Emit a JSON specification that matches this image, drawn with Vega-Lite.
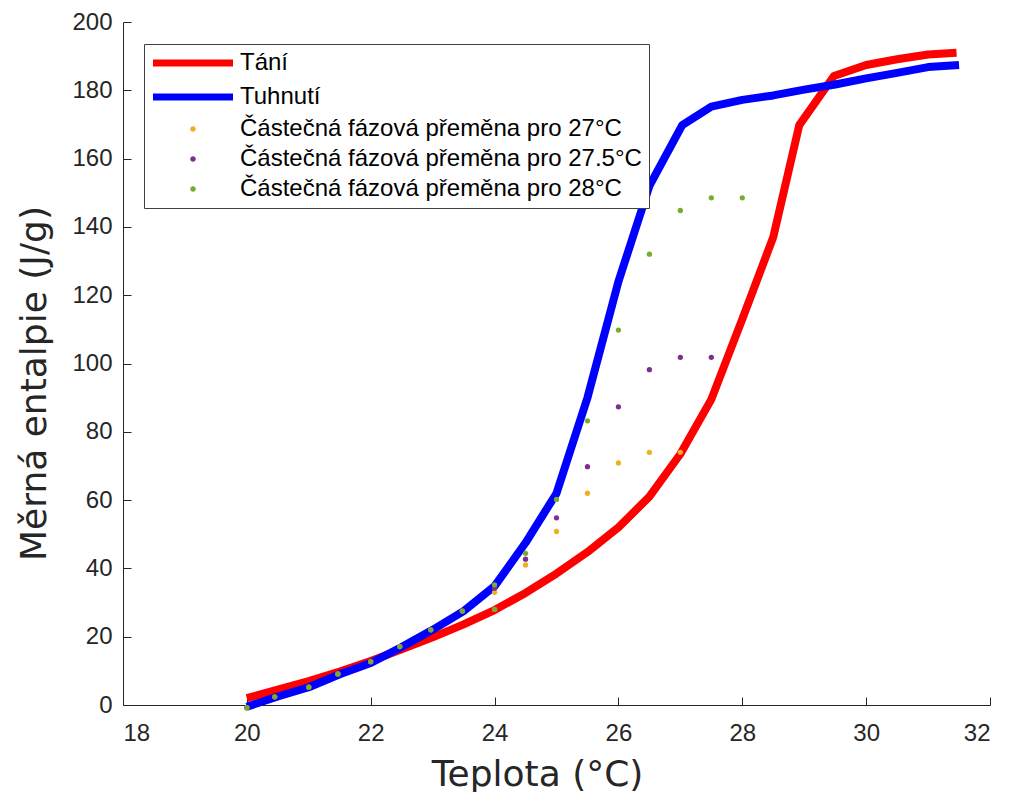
{
  "$schema": "https://vega.github.io/schema/vega-lite/v6.json",
  "width": 867,
  "height": 683,
  "autosize": {"type": "none"},
  "padding": {"left": 123, "top": 22, "right": 19, "bottom": 87},
  "background": "white",
  "config": {
    "view": {"stroke": null},
    "axis": {
      "grid": false,
      "domainColor": "#262626",
      "tickColor": "#262626",
      "tickSize": -8,
      "labelFont": "Liberation Sans",
      "labelFontSize": 24,
      "labelColor": "#262626",
      "titleFont": "DejaVu Sans",
      "titleFontSize": 36,
      "titleFontWeight": "normal",
      "titleColor": "#262626"
    }
  },
  "data": {
    "values": [
      {"s": "Tání", "x": 20, "y": 2},
      {"s": "Tání", "x": 20.5, "y": 4.5},
      {"s": "Tání", "x": 21, "y": 7},
      {"s": "Tání", "x": 21.5, "y": 9.8},
      {"s": "Tání", "x": 22, "y": 12.9},
      {"s": "Tání", "x": 22.5, "y": 16.3},
      {"s": "Tání", "x": 23, "y": 19.8},
      {"s": "Tání", "x": 23.5, "y": 23.6},
      {"s": "Tání", "x": 24, "y": 27.8},
      {"s": "Tání", "x": 24.5, "y": 32.8},
      {"s": "Tání", "x": 25, "y": 38.5},
      {"s": "Tání", "x": 25.5, "y": 44.8},
      {"s": "Tání", "x": 26, "y": 52},
      {"s": "Tání", "x": 26.5, "y": 61},
      {"s": "Tání", "x": 27, "y": 73.5},
      {"s": "Tání", "x": 27.5, "y": 89.5},
      {"s": "Tání", "x": 28, "y": 113},
      {"s": "Tání", "x": 28.5, "y": 137},
      {"s": "Tání", "x": 28.92, "y": 169.8},
      {"s": "Tání", "x": 29.48, "y": 184.2},
      {"s": "Tání", "x": 30, "y": 187.4},
      {"s": "Tání", "x": 30.5, "y": 189.1},
      {"s": "Tání", "x": 31, "y": 190.5},
      {"s": "Tání", "x": 31.46, "y": 191},
      {"s": "Tuhnutí", "x": 20, "y": -0.5},
      {"s": "Tuhnutí", "x": 20.5, "y": 2.5},
      {"s": "Tuhnutí", "x": 21, "y": 5.2},
      {"s": "Tuhnutí", "x": 21.5, "y": 9},
      {"s": "Tuhnutí", "x": 22, "y": 12.3},
      {"s": "Tuhnutí", "x": 22.5, "y": 17},
      {"s": "Tuhnutí", "x": 23, "y": 22},
      {"s": "Tuhnutí", "x": 23.5, "y": 27.5},
      {"s": "Tuhnutí", "x": 24, "y": 34.8},
      {"s": "Tuhnutí", "x": 24.5, "y": 47.5},
      {"s": "Tuhnutí", "x": 25, "y": 62},
      {"s": "Tuhnutí", "x": 25.5, "y": 90},
      {"s": "Tuhnutí", "x": 26, "y": 124},
      {"s": "Tuhnutí", "x": 26.5, "y": 152},
      {"s": "Tuhnutí", "x": 27.03, "y": 169.8},
      {"s": "Tuhnutí", "x": 27.5, "y": 175.2},
      {"s": "Tuhnutí", "x": 28, "y": 177.2},
      {"s": "Tuhnutí", "x": 28.5, "y": 178.5},
      {"s": "Tuhnutí", "x": 29, "y": 180.2},
      {"s": "Tuhnutí", "x": 29.5, "y": 181.7},
      {"s": "Tuhnutí", "x": 30, "y": 183.5},
      {"s": "Tuhnutí", "x": 30.5, "y": 185.1},
      {"s": "Tuhnutí", "x": 31, "y": 186.8},
      {"s": "Tuhnutí", "x": 31.5, "y": 187.4},
      {"s": "Částečná fázová přeměna pro 27°C", "x": 20, "y": -0.8},
      {"s": "Částečná fázová přeměna pro 27°C", "x": 20.45, "y": 2.4},
      {"s": "Částečná fázová přeměna pro 27°C", "x": 21, "y": 5.2},
      {"s": "Částečná fázová přeměna pro 27°C", "x": 21.47, "y": 9.1},
      {"s": "Částečná fázová přeměna pro 27°C", "x": 22, "y": 12.7},
      {"s": "Částečná fázová přeměna pro 27°C", "x": 22.47, "y": 17.1},
      {"s": "Částečná fázová přeměna pro 27°C", "x": 22.97, "y": 22},
      {"s": "Částečná fázová přeměna pro 27°C", "x": 23.48, "y": 27.5},
      {"s": "Částečná fázová přeměna pro 27°C", "x": 24, "y": 28},
      {"s": "Částečná fázová přeměna pro 27°C", "x": 24, "y": 33},
      {"s": "Částečná fázová přeměna pro 27°C", "x": 24.5, "y": 41},
      {"s": "Částečná fázová přeměna pro 27°C", "x": 25, "y": 50.8},
      {"s": "Částečná fázová přeměna pro 27°C", "x": 25.5, "y": 62},
      {"s": "Částečná fázová přeměna pro 27°C", "x": 26, "y": 70.9},
      {"s": "Částečná fázová přeměna pro 27°C", "x": 26.5, "y": 74},
      {"s": "Částečná fázová přeměna pro 27°C", "x": 27, "y": 74},
      {"s": "Částečná fázová přeměna pro 27.5°C", "x": 20, "y": -0.8},
      {"s": "Částečná fázová přeměna pro 27.5°C", "x": 20.45, "y": 2.4},
      {"s": "Částečná fázová přeměna pro 27.5°C", "x": 21, "y": 5.2},
      {"s": "Částečná fázová přeměna pro 27.5°C", "x": 21.47, "y": 9.1},
      {"s": "Částečná fázová přeměna pro 27.5°C", "x": 22, "y": 12.7},
      {"s": "Částečná fázová přeměna pro 27.5°C", "x": 22.47, "y": 17.1},
      {"s": "Částečná fázová přeměna pro 27.5°C", "x": 22.97, "y": 22},
      {"s": "Částečná fázová přeměna pro 27.5°C", "x": 23.48, "y": 27.5},
      {"s": "Částečná fázová přeměna pro 27.5°C", "x": 24, "y": 28},
      {"s": "Částečná fázová přeměna pro 27.5°C", "x": 24, "y": 34.2},
      {"s": "Částečná fázová přeměna pro 27.5°C", "x": 24.5, "y": 42.7},
      {"s": "Částečná fázová přeměna pro 27.5°C", "x": 25, "y": 54.8},
      {"s": "Částečná fázová přeměna pro 27.5°C", "x": 25.5, "y": 69.8},
      {"s": "Částečná fázová přeměna pro 27.5°C", "x": 26, "y": 87.3},
      {"s": "Částečná fázová přeměna pro 27.5°C", "x": 26.5, "y": 98.2},
      {"s": "Částečná fázová přeměna pro 27.5°C", "x": 27, "y": 101.8},
      {"s": "Částečná fázová přeměna pro 27.5°C", "x": 27.5, "y": 101.8},
      {"s": "Částečná fázová přeměna pro 28°C", "x": 20, "y": -0.8},
      {"s": "Částečná fázová přeměna pro 28°C", "x": 20.45, "y": 2.4},
      {"s": "Částečná fázová přeměna pro 28°C", "x": 21, "y": 5.2},
      {"s": "Částečná fázová přeměna pro 28°C", "x": 21.47, "y": 9.1},
      {"s": "Částečná fázová přeměna pro 28°C", "x": 22, "y": 12.7},
      {"s": "Částečná fázová přeměna pro 28°C", "x": 22.47, "y": 17.1},
      {"s": "Částečná fázová přeměna pro 28°C", "x": 22.97, "y": 22},
      {"s": "Částečná fázová přeměna pro 28°C", "x": 23.48, "y": 27.5},
      {"s": "Částečná fázová přeměna pro 28°C", "x": 24, "y": 28},
      {"s": "Částečná fázová přeměna pro 28°C", "x": 24, "y": 35.2},
      {"s": "Částečná fázová přeměna pro 28°C", "x": 24.5, "y": 44.4},
      {"s": "Částečná fázová přeměna pro 28°C", "x": 25, "y": 60.2},
      {"s": "Částečná fázová přeměna pro 28°C", "x": 25.5, "y": 83.2},
      {"s": "Částečná fázová přeměna pro 28°C", "x": 26, "y": 109.8},
      {"s": "Částečná fázová přeměna pro 28°C", "x": 26.5, "y": 132},
      {"s": "Částečná fázová přeměna pro 28°C", "x": 27, "y": 144.8},
      {"s": "Částečná fázová přeměna pro 28°C", "x": 27.5, "y": 148.5},
      {"s": "Částečná fázová přeměna pro 28°C", "x": 28, "y": 148.5}
    ]
  },
  "encoding": {
    "x": {
      "field": "x",
      "type": "quantitative",
      "scale": {"domain": [18, 32], "nice": false, "zero": false},
      "axis": {
        "values": [18, 20, 22, 24, 26, 28, 30, 32],
        "title": "Teplota (°C)",
        "labelPadding": 24,
        "titleX": 414,
        "titleY": 80,
        "titleBaseline": "alphabetic",
        "titleAnchor": null
      }
    },
    "y": {
      "field": "y",
      "type": "quantitative",
      "scale": {"domain": [0, 200], "nice": false, "zero": false},
      "axis": {
        "values": [0, 20, 40, 60, 80, 100, 120, 140, 160, 180, 200],
        "title": "Měrná entalpie (J/g)",
        "labelPadding": 19,
        "titleX": -78,
        "titleY": 361,
        "titleAngle": -90,
        "titleAlign": "center",
        "titleBaseline": "alphabetic",
        "titleAnchor": null
      }
    },
    "color": {
      "field": "s",
      "type": "nominal",
      "scale": {
        "domain": ["Tání", "Tuhnutí", "Částečná fázová přeměna pro 27°C", "Částečná fázová přeměna pro 27.5°C", "Částečná fázová přeměna pro 28°C"],
        "range": ["#ff0000", "#0000ff", "#EDB120", "#7E2F8E", "#77AC30"]
      },
      "legend": {
        "title": null,
        "orient": "none",
        "legendX": 21,
        "legendY": 22,
        "padding": 7,
        "strokeColor": "#404040",
        "fillColor": "white",
        "labelFont": "Liberation Sans",
        "labelFontSize": 24,
        "labelColor": "#000000",
        "labelLimit": 700,
        "symbolSize": 400,
        "labelOffset": 65,
        "rowPadding": 6,
        "symbolOpacity": 1,
        "encode": {
          "symbols": {
            "update": {
              "shape": {"signal": "(datum.value === 'Tání' || datum.value === 'Tuhnutí') ? 'M-1,0H7' : 'M2.72,0A0.28,0.28,0,1,1,3.28,0A0.28,0.28,0,1,1,2.72,0Z'"},
              "size": {"value": 400},
              "strokeWidth": {"signal": "(datum.value === 'Tání' || datum.value === 'Tuhnutí') ? 7 : 0"},
              "stroke": {"scale": "color", "field": "value"},
              "fill": {"scale": "color", "field": "value"},
              "opacity": {"value": 1},
              "fillOpacity": {"value": 1},
              "strokeOpacity": {"value": 1}
            }
          }
        }
      }
    }
  },
  "layer": [
    {
      "transform": [{"filter": "datum.s === 'Tání'"}],
      "mark": {"type": "line", "strokeWidth": 8, "strokeJoin": "round", "clip": false}
    },
    {
      "transform": [{"filter": "datum.s === 'Tuhnutí'"}],
      "mark": {"type": "line", "strokeWidth": 8, "strokeJoin": "round", "clip": false}
    },
    {
      "transform": [{"filter": "datum.s !== 'Tání' && datum.s !== 'Tuhnutí'"}],
      "mark": {"type": "point", "filled": true, "size": 28, "opacity": 1, "shape": "circle", "clip": false}
    }
  ]
}
